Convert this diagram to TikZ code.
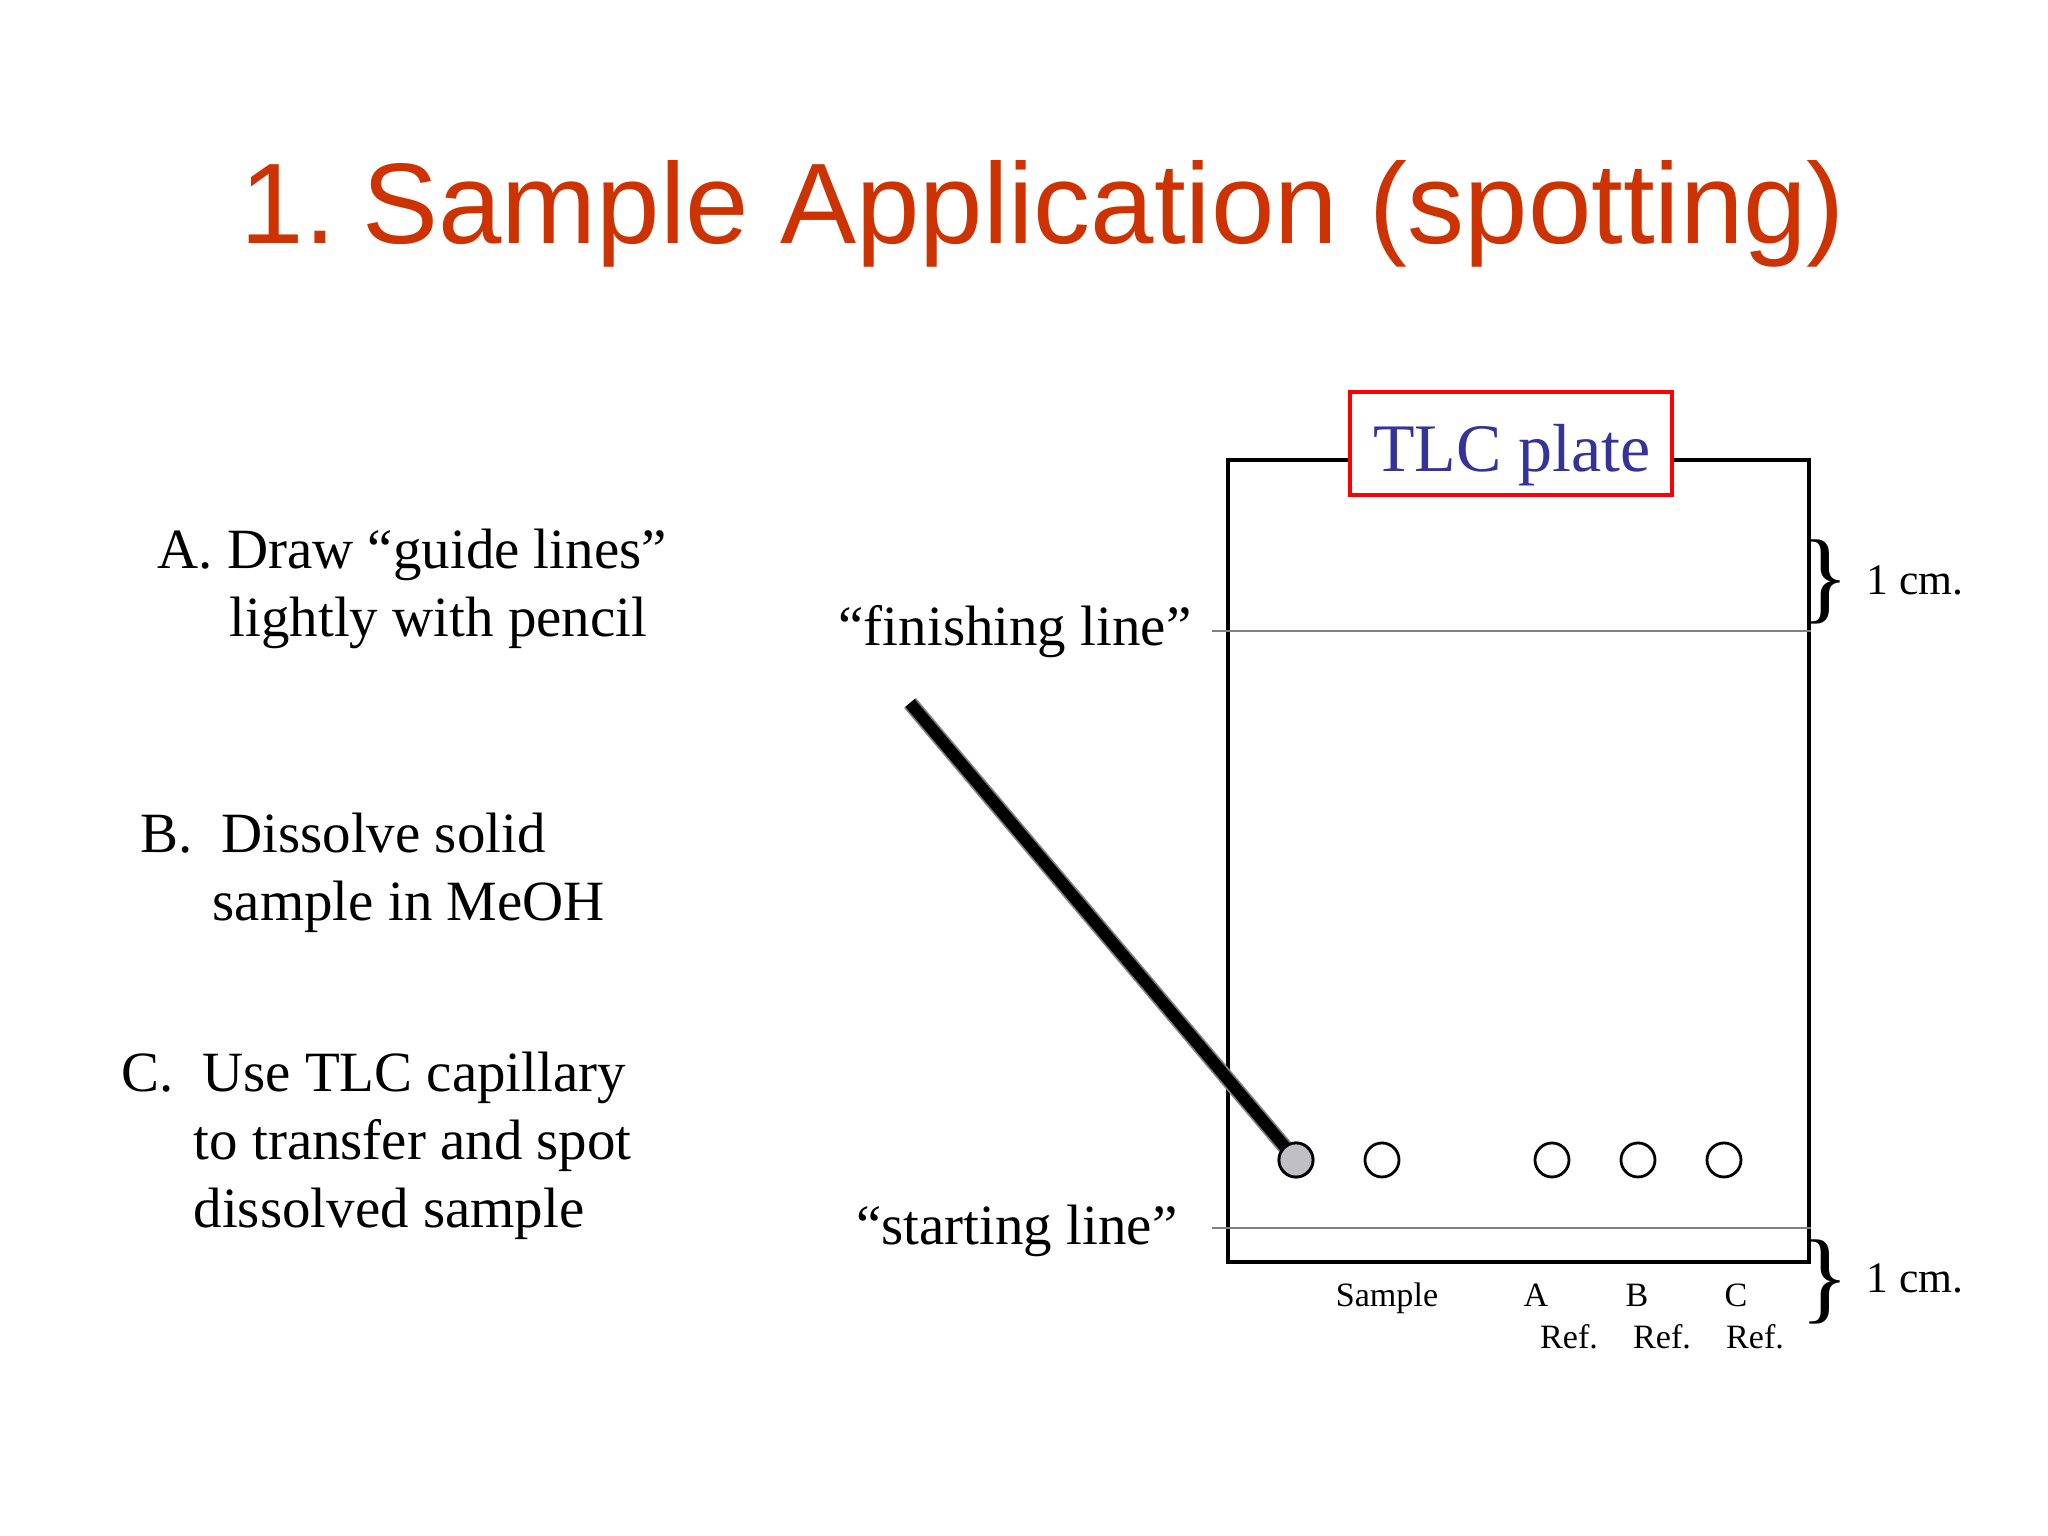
\documentclass[tikz,border=0pt]{standalone}
\usepackage{fontspec}
\setmainfont{Liberation Serif}
\newfontfamily\titlefont{Liberation Sans}
\usetikzlibrary{positioning}
\definecolor{titlered}{RGB}{204,51,0}
\definecolor{plateblue}{RGB}{51,51,153}
\definecolor{spotgray}{RGB}{192,192,196}

\begin{document}
\begin{tikzpicture}
    \tikzset{
      stepitem/.style={
        anchor=base west,
        align=left,
        inner sep=0mm,
        font=\fontsize{16.2}{19.35}\selectfont
      },
      linelabel/.style={
        anchor=base east,
        inner sep=0mm,
        font=\fontsize{16.2}{19.35}\selectfont
      },
      lanelabel/.style={
        anchor=base,
        inner sep=0mm,
        font=\fontsize{9.7}{11}\selectfont
      },
      cmlabel/.style={
        anchor=base west,
        inner sep=0mm,
        font=\fontsize{12.4}{14}\selectfont
      },
      cmbrace/.style={
        inner sep=0mm,
        font=\fontsize{29}{30}\selectfont
      },
      spot/.style={
        circle,
        minimum size=3.4mm,
        inner sep=0mm,
        line width=0.8pt,
        draw
      },
      guide/.style={
        draw=gray,
        line width=0.8pt
      }
    }

    \useasboundingbox (0,0) rectangle (20.48,15.36);
    \fill[white] (0,0) rectangle (20.48,15.36);

    %Title
    \node[anchor=base,inner sep=0mm,xscale=0.995,text=titlered,font=\titlefont\fontsize{32.6}{36}\selectfont] at (10.43,12.92) (title) {1.\hspace{-4.5pt} Sample Application (spotting)};

    %Steps on the left (anchored at the last line)
    \node[stepitem] at (1.57,8.99) (stepa) {A. Draw “guide lines”\\\hspace*{7.2mm}lightly with pencil};
    \node[stepitem] at (1.40,6.15) (stepb) {B.\ \ Dissolve solid\\\hspace*{7.2mm}sample in MeOH};
    \node[stepitem] at (1.21,3.08) (stepc) {C.\ \ Use TLC capillary\\\hspace*{7.2mm}to transfer and spot\\\hspace*{7.2mm}dissolved sample};

    %Plate outline
    \node[draw,line width=0.9pt,minimum width=58.1mm,minimum height=80.2mm,inner sep=0mm] at (15.185,6.75) (plate) {};
    %Plate label
    \node[draw=red,line width=1pt,fill=white,minimum width=32.2mm,minimum height=10.3mm,inner sep=0mm] at (15.11,10.925) (platebox) {};
    \node[anchor=base,inner sep=0mm,text=plateblue,font=\fontsize{19.35}{22}\selectfont] at (15.12,10.64) (platelabel) {TLC plate};

    %Guide lines
    \node[linelabel] at (11.92,8.90) (finlabel) {“finishing line”};
    \node[linelabel] at (11.78,2.91) (startlabel) {“starting line”};
    \coordinate (fin) at (12.12,9.05);
    \coordinate (start) at (12.12,3.08);
    \draw[guide] (fin) -- (fin -| plate.east);
    \draw[guide] (start) -- (start -| plate.east);

    %Capillary
    \coordinate (captop) at (9.10,8.33);
    \node[spot] at (12.96,3.76) (spot0) {};
    \draw[gray,line width=4.4pt] (captop) -- (spot0.center);
    \draw[black,line width=3.4pt] (captop) -- (spot0.center);
    \node[spot,fill=spotgray] at (12.96,3.76) {};

    %Spots
    \foreach \x/\n in {13.82/sample,15.52/a,16.38/b,17.24/c}
      \node[spot] at (\x,3.76) (spot\n) {};

    %Lane labels
    \node[lanelabel] at (13.87,2.29) (lanesample) {Sample};
    \node[lanelabel] at (15.36,2.29) (lanea) {A};
    \node[lanelabel] at (16.37,2.29) (laneb) {B};
    \node[lanelabel] at (17.36,2.29) (lanec) {C};
    \node[lanelabel] at (15.69,1.87) (refa) {Ref.};
    \node[lanelabel] at (16.62,1.87) (refb) {Ref.};
    \node[lanelabel] at (17.55,1.87) (refc) {Ref.};

    %Braces
    \node[cmbrace] at (18.25,9.54) (topbrace) {\}};
    \node[cmlabel] at (18.66,9.41) (topcm) {1 cm.};
    \node[cmbrace] at (18.25,2.54) (botbrace) {\}};
    \node[cmlabel] at (18.66,2.43) (botcm) {1 cm.};
  \end{tikzpicture}
\end{document}
